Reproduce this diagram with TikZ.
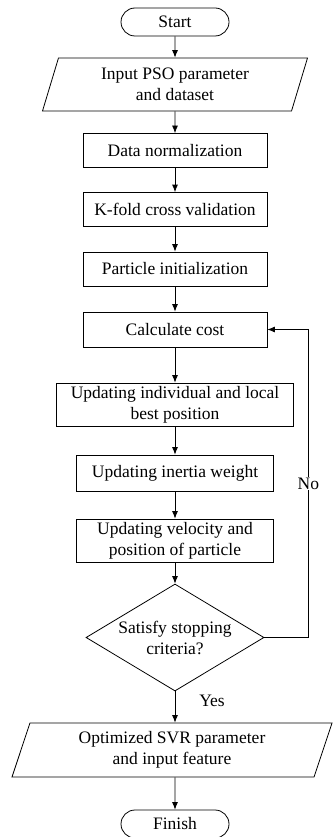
\documentclass[tikz,border=0pt]{standalone}
\usepackage{fontspec}
\setmainfont{Liberation Serif}
\usetikzlibrary{arrows.meta,shapes.geometric,shapes.misc}

\tikzset{
  every node/.style={font=\fontsize{17.5}{21}\selectfont},
  term/.style={draw,rounded rectangle,minimum width=108pt,minimum height=28pt,inner sep=0pt},
  proc/.style={draw,rectangle,minimum height=34pt,inner sep=0pt,align=center},
  io/.style={draw,trapezium,trapezium left angle=64,trapezium right angle=116,
    trapezium stretches body,minimum height=53pt,inner sep=0pt,align=center},
  decide/.style={draw,diamond,aspect=1.66,minimum width=178pt,minimum height=107pt,inner sep=0pt,align=center},
  arr/.style={-{Latex[length=7.5pt,width=6pt]}}
}

\begin{document}
\begin{tikzpicture}[x=1pt,y=-1pt,line width=0.8pt]
\useasboundingbox (0,0) rectangle (333,837);
% flow, top to bottom
\node[term] (start) at (175,22) {Start};
\node[io,minimum width=265pt] (input) at (175,84.5) {Input PSO parameter\\and dataset};
\node[proc,minimum width=184pt] (norm) at (175,150.5) {Data normalization};
\node[proc,minimum width=184pt] (kfold) at (175,209.5) {K-fold cross validation};
\node[proc,minimum width=184pt] (init) at (175,269) {Particle initialization};
\node[proc,minimum width=184pt,minimum height=35pt] (cost) at (175,329.5) {Calculate cost};
\node[proc,minimum width=237pt,minimum height=43pt] (best) at (175,404.5) {Updating individual and local\\best position};
\node[proc,minimum width=197pt,minimum height=36pt] (inertia) at (175,473) {Updating inertia weight};
\node[proc,minimum width=197pt,minimum height=43pt] (velocity) at (175,540.5) {Updating velocity and\\position of particle};
\node[decide] (stop) at (175,637.5) {Satisfy stopping\\criteria?};
\node[io,minimum width=320pt,minimum height=54pt] (output) at (172,750) {Optimized SVR parameter\\and input feature};
\node[term] (finish) at (175,824) {Finish};

\draw[arr] (start) -- (input);
\draw[arr] (input) -- (norm);
\draw[arr] (norm) -- (kfold);
\draw[arr] (kfold) -- (init);
\draw[arr] (init) -- (cost);
\draw[arr] (cost) -- (best);
\draw[arr] (best) -- (inertia);
\draw[arr] (inertia) -- (velocity);
\draw[arr] (velocity) -- (stop);
\draw[arr] (stop.south) -- (stop.south |- output.north);
\draw[arr] (finish.north |- output.south) -- (finish);
% loop back
\draw[arr] (stop.east) -- ++(44,0) |- (cost.east) node[pos=0.25,fill=white,inner sep=1pt] (no) {No};
\node (yes) at (212,701) {Yes};
\end{tikzpicture}
\end{document}
